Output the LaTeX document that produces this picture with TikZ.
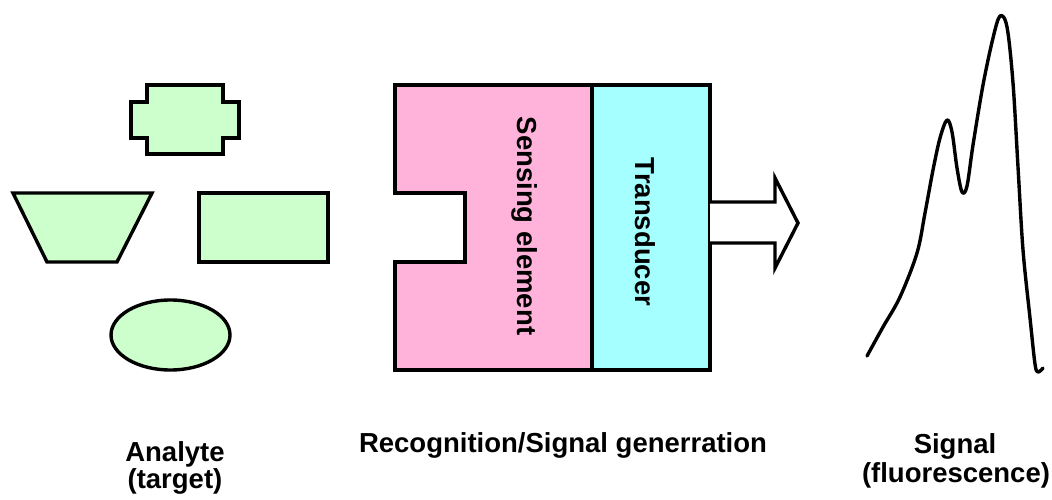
\documentclass[tikz,border=0pt]{standalone}
\usepackage{fontspec}
\setmainfont{Liberation Sans}
\definecolor{analyte}{HTML}{CCFFCC}
\definecolor{sensing}{HTML}{FFB3DA}
\definecolor{transd}{HTML}{A5FFFF}
\begin{document}
\begin{tikzpicture}[x=1pt,y=-1pt,
  shapeline/.style={draw=black,line width=3.4pt,line join=miter},
  greenshape/.style={shapeline,fill=analyte},
  lbl/.style={font=\fontsize{27.5}{31}\selectfont\bfseries,inner sep=0pt,anchor=base},
  vlbl/.style={font=\fontsize{27.5}{31}\selectfont\bfseries,inner sep=0pt,rotate=-90}]
\useasboundingbox[fill=white] (0,0) rectangle (1052,500);
% analyte shapes
\draw[greenshape] (147,85) -- (223,85) -- (223,102) -- (239,102) -- (239,138) -- (223,138) -- (223,154) -- (147,154) -- (147,138) -- (131,138) -- (131,102) -- (147,102) -- cycle;
\draw[greenshape] (13,193) -- (152,193) -- (117,262) -- (47,262) -- cycle;
\draw[greenshape] (199,193) rectangle (328,262);
\draw[greenshape] (170.5,335) ellipse [x radius=59.5, y radius=35];
% sensor
\fill[sensing] (395,85) -- (592,85) -- (592,370) -- (395,370) -- (395,262) -- (465,262) -- (465,193) -- (395,193) -- cycle;
\fill[transd] (592,85) rectangle (710,370);
\draw[shapeline] (395,85) -- (710,85) -- (710,370) -- (395,370) -- (395,262) -- (465,262) -- (465,193) -- (395,193) -- cycle;
\draw[shapeline] (592,85) -- (592,370);
\node[vlbl] (sens) at (525,226) {Sensing element};
\node[vlbl] (trans) at (645,232) {Transducer};
% output arrow
\draw[shapeline,fill=white] (710,202) -- (775,202) -- (775,178) -- (798,223) -- (775,268) -- (775,243) -- (710,243);
% signal curve
\draw[line width=3.4pt,line cap=round,line join=round] plot[smooth,tension=0.55] coordinates {
 (867,356) (883,327) (900,297) (917,253) (925,213) (933,170) (940,138) (947,120)
 (952,132) (957,168) (962,192) (967,186) (973,145) (983,85) (993,38) (1000,16)
 (1007,27) (1013,83) (1018,167) (1023,250) (1030,318) (1035,364) (1038,372) (1043,368)};
% labels
\node[lbl] (an1) at (175,461) {Analyte};
\node[lbl] (an2) at (175,488) {(target)};
\node[lbl] (rec) at (563,452) {Recognition/Signal generration};
\node[lbl] (sg1) at (955,453) {Signal};
\node[lbl] (sg2) at (956,482) {(fluorescence)};
\end{tikzpicture}
\end{document}
